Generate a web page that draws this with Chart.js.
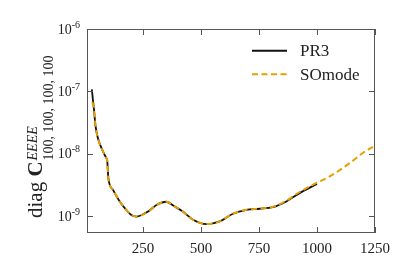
<!DOCTYPE html>
<html>
<head>
<meta charset="utf-8">
<script src="https://cdn.jsdelivr.net/npm/chart.js@4"></script>
<style>
  html, body { margin: 0; padding: 0; background: #fff; }
  canvas { display: block; }
</style>
</head>
<body>
<canvas id="chart" width="415" height="277"></canvas>
<script>
// Data (multipole ell vs diagonal covariance)
const ellPR3 = [30, 34, 38, 46, 56, 75, 92, 96, 101, 121, 150, 178, 200, 222, 245, 272, 310, 351, 385, 422, 466, 523, 581, 638, 696, 753, 810, 868, 925, 1000];
const valPR3 = [1.08e-7, 7.6e-8, 5.6e-8, 2.75e-8, 1.78e-8, 1.16e-8, 8.6e-9, 7.9e-9, 4.1e-9, 2.65e-9, 1.73e-9, 1.27e-9, 1.05e-9, 9.9e-10, 1.05e-9, 1.19e-9, 1.53e-9, 1.71e-9, 1.45e-9, 1.19e-9, 8.8e-10, 7.5e-10, 8.3e-10, 1.10e-9, 1.27e-9, 1.32e-9, 1.40e-9, 1.73e-9, 2.35e-9, 3.31e-9];

const ellSO = [32, 38, 46, 56, 75, 92, 96, 101, 121, 150, 178, 200, 222, 245, 272, 310, 351, 385, 422, 466, 523, 581, 638, 696, 753, 810, 868, 925, 1000, 1055, 1141, 1200, 1250];
const valSO = [6.8e-8, 5.6e-8, 2.75e-8, 1.78e-8, 1.16e-8, 8.6e-9, 7.9e-9, 4.1e-9, 2.65e-9, 1.73e-9, 1.27e-9, 1.05e-9, 9.9e-10, 1.05e-9, 1.19e-9, 1.53e-9, 1.71e-9, 1.45e-9, 1.19e-9, 8.8e-10, 7.5e-10, 8.3e-10, 1.10e-9, 1.27e-9, 1.33e-9, 1.42e-9, 1.78e-9, 2.45e-9, 3.45e-9, 4.35e-9, 7.1e-9, 1.05e-8, 1.35e-8];

const xTicks = [250, 500, 750, 1000, 1250];
const yTicks = [1e-9, 1e-8, 1e-7, 1e-6];
const seriesNames = ['PR3', 'SOmode'];

// Styles
const serif = "'Liberation Serif', 'DejaVu Serif', serif";
const axisColor = '#555';
const textColor = '#222';
const orange = '#E69F00';

const toPoints = (xs, ys) => xs.map((x, i) => ({ x: x, y: ys[i] }));

// frame, inward ticks, y tick labels, axis title and legend
const decorations = {
    id: 'decorations',
    afterDraw(chart) {
        const { ctx, chartArea: a, scales: { x, y } } = chart;
        ctx.save();

        // frame
        ctx.strokeStyle = axisColor;
        ctx.lineWidth = 1;
        ctx.strokeRect(a.left + 0.5, a.top + 0.5, a.right - a.left - 1, a.bottom - a.top - 1);

        // ticks pointing inwards on all four sides
        const len = 6;
        ctx.beginPath();
        xTicks.forEach(v => {
            const px = Math.round(x.getPixelForValue(v)) + 0.5;
            ctx.moveTo(px, a.bottom); ctx.lineTo(px, a.bottom - len);
            ctx.moveTo(px, a.top); ctx.lineTo(px, a.top + len);
        });
        yTicks.forEach(v => {
            const py = Math.round(y.getPixelForValue(v)) + 0.5;
            ctx.moveTo(a.left, py); ctx.lineTo(a.left + len, py);
            ctx.moveTo(a.right, py); ctx.lineTo(a.right - len, py);
        });
        ctx.stroke();

        // y tick labels as 10^n
        ctx.fillStyle = textColor;
        ctx.textAlign = 'right';
        ctx.textBaseline = 'alphabetic';
        yTicks.forEach(v => {
            const py = y.getPixelForValue(v);
            const sup = '-' + Math.abs(Math.round(Math.log10(v)));
            const right = a.left - 7;
            ctx.font = '10px ' + serif;
            ctx.fillText(sup, right, py - 1.5);
            const w = ctx.measureText(sup).width;
            ctx.font = '14px ' + serif;
            ctx.fillText('10', right - w, py + 4.5);
        });

        // y axis title: diag C^{EEEE}_{100, 100, 100, 100}
        ctx.translate(42, 218);
        ctx.rotate(-Math.PI / 2);
        ctx.textAlign = 'left';
        let cx = 0;
        ctx.font = '21px ' + serif;
        ctx.fillText('diag ', cx, 0);
        cx += ctx.measureText('diag ').width;
        ctx.font = 'bold 21px ' + serif;
        ctx.fillText('C', cx, 0);
        cx += ctx.measureText('C').width + 1;
        ctx.font = 'italic 14px ' + serif;
        ctx.fillText('EEEE', cx, -5);
        ctx.font = '14px ' + serif;
        ctx.fillText('100, 100, 100, 100', cx, 11);
        ctx.restore();

        // legend
        ctx.save();
        const rows = [50.7, 74.3];
        chart.data.datasets.forEach((ds, i) => {
            const ly = rows[i];
            ctx.strokeStyle = ds.borderColor;
            ctx.lineWidth = 2;
            ctx.setLineDash(ds.borderDash || []);
            ctx.beginPath();
            ctx.moveTo(252, ly);
            ctx.lineTo(287, ly);
            ctx.stroke();
            ctx.setLineDash([]);
            ctx.fillStyle = textColor;
            ctx.font = '17px ' + serif;
            ctx.textAlign = 'left';
            ctx.textBaseline = 'middle';
            ctx.fillText(ds.label, 300, ly + 1);
        });
        ctx.restore();
    }
};

const chart = new Chart(document.getElementById('chart').getContext('2d'), {
    type: 'line',
    data: {
        datasets: [
            {
                label: seriesNames[0],
                data: toPoints(ellPR3, valPR3),
                borderColor: '#111',
                borderWidth: 1.8,
                pointRadius: 0,
                cubicInterpolationMode: 'monotone',
                order: 1
            },
            {
                label: seriesNames[1],
                data: toPoints(ellSO, valSO),
                borderColor: orange,
                borderWidth: 2,
                borderDash: [6, 3.5],
                pointRadius: 0,
                cubicInterpolationMode: 'monotone',
                order: 0
            }
        ]
    },
    options: {
        responsive: false,
        animation: false,
        events: [],
        layout: { padding: { top: 29, right: 40, left: 0, bottom: 0 } },
        plugins: { legend: { display: false }, tooltip: { enabled: false } },
        scales: {
            x: {
                type: 'linear',
                min: 9,
                max: 1250,
                grid: { display: false, drawTicks: false },
                border: { display: false },
                afterBuildTicks: s => { s.ticks = xTicks.map(v => ({ value: v })); },
                afterFit: s => { s.height = 44; },
                ticks: {
                    padding: 7,
                    maxRotation: 0,
                    color: textColor,
                    font: { family: serif, size: 15 },
                    callback: v => String(v)
                }
            },
            y: {
                type: 'logarithmic',
                min: 5.4e-10,
                max: 1e-6,
                grid: { display: false, drawTicks: false },
                border: { display: false },
                afterBuildTicks: s => { s.ticks = yTicks.map(v => ({ value: v })); },
                afterFit: s => { s.width = 87; },
                ticks: { display: false }
            }
        }
    },
    plugins: [decorations]
});
</script>
</body>
</html>
